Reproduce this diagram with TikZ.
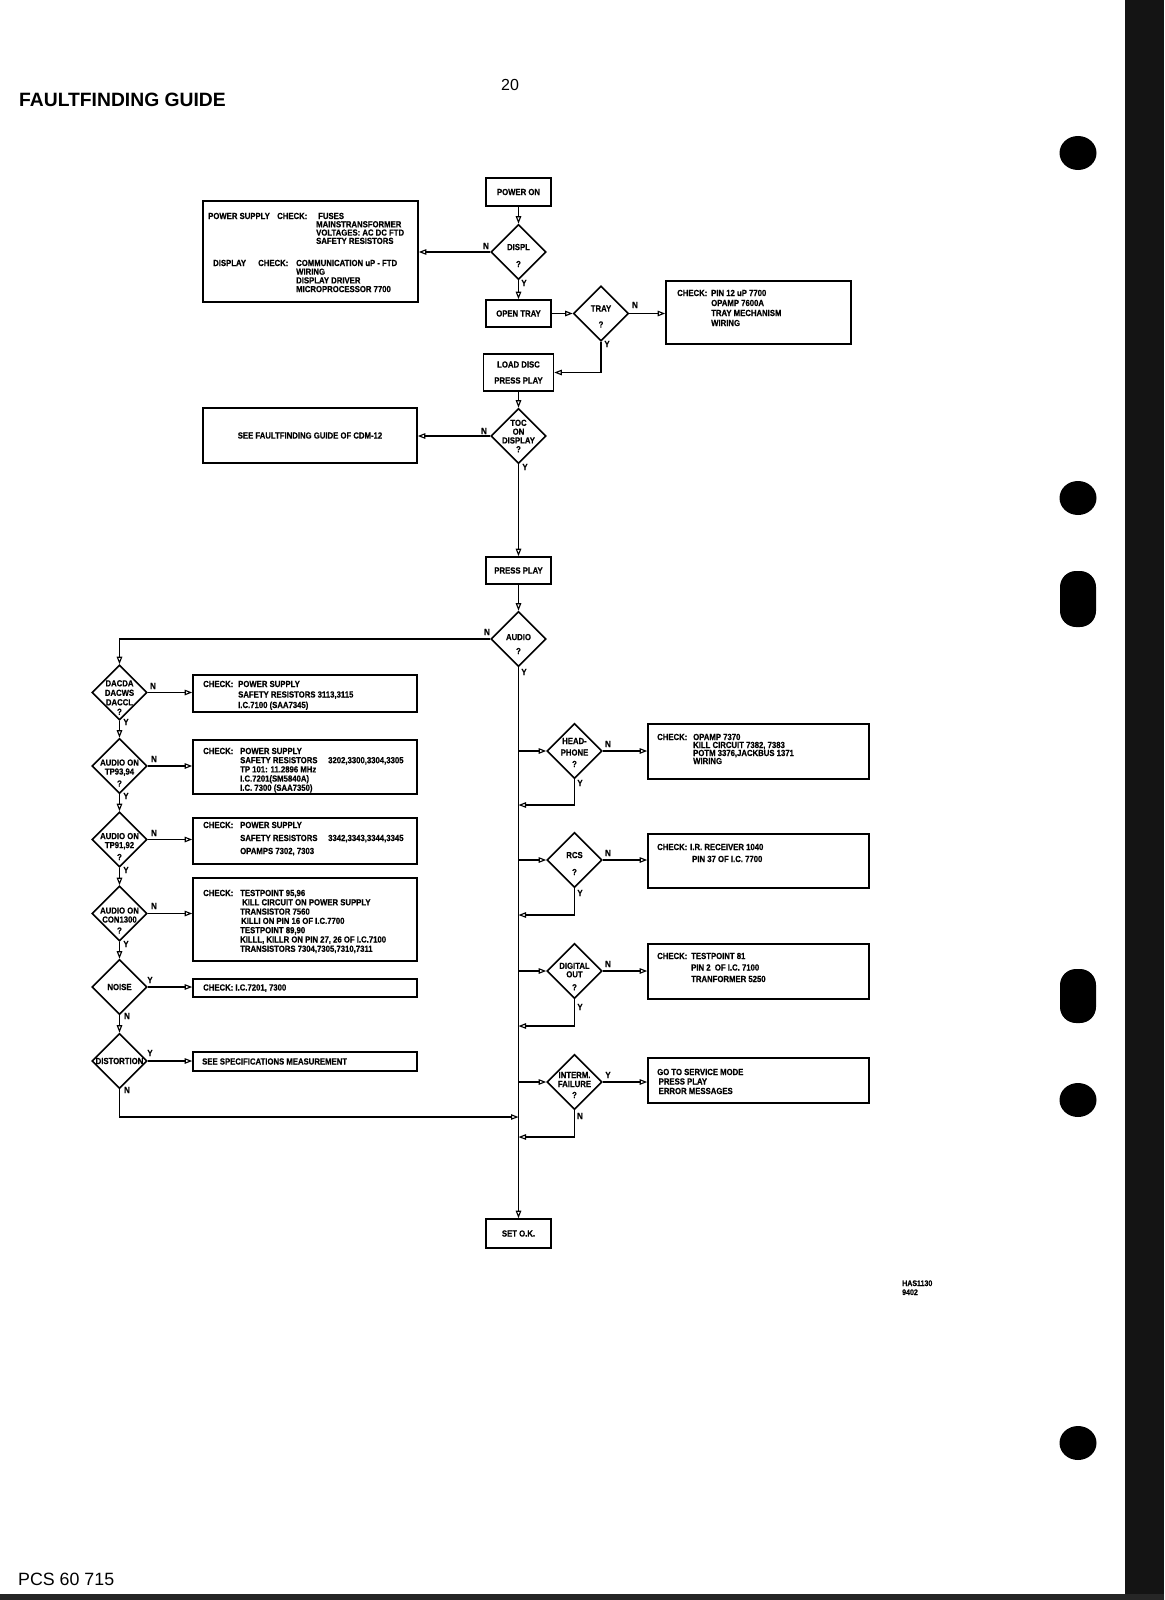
\documentclass[tikz,border=0pt]{standalone}
\usepackage{fontspec}
\setmainfont{Liberation Sans}
\newfontfamily\cf[FakeStretch=0.88,FakeBold=0.5]{Liberation Sans}
\usetikzlibrary{shapes.geometric,arrows.meta}
\newcommand\fflist[2]{\vtop{\hsize=260pt\parindent=0pt\raggedright\baselineskip=#1pt\lineskiplimit=-50pt\lineskip=0pt\leavevmode #2\par}}
\begin{document}
\begin{tikzpicture}[x=1pt,y=-1pt,
 ff/.style={font=\cf\bfseries\fontsize{8.8}{10}\selectfont},
 bx/.style={draw,line width=1.6pt,rectangle,inner sep=0pt,align=center,ff},
 dm/.style={draw,line width=1.6pt,diamond,inner sep=0pt,minimum width=55pt,minimum height=55pt},
 ar/.style={line width=1.4pt,-{Triangle[open,length=7.5pt,width=5.5pt,line width=1.1pt]}},
 yn/.style={ff,inner sep=0pt},
 tx/.style={ff,inner sep=0pt,anchor=base west},
 dt/.style={ff,inner sep=0pt,align=center},
]
\useasboundingbox (0,0) rectangle (1164,1600);
\fill[white] (0,0) rectangle (1164,1600);
% binder edge and punch holes
\fill[black!92] (1125,0) rectangle (1164,1600);
\fill[black!85] (0,1594) rectangle (1164,1600);
\fill[black] (1078,153) ellipse [x radius=18.5pt, y radius=17pt];
\fill[black] (1078,498) ellipse [x radius=18.5pt, y radius=17pt];
\fill[black,rounded corners=16pt] (1060,571) rectangle (1096,627);
\fill[black,rounded corners=16pt] (1060,969) rectangle (1096,1023);
\fill[black] (1078,1100) ellipse [x radius=18.5pt, y radius=17pt];
\fill[black] (1078,1443) ellipse [x radius=18.5pt, y radius=17pt];

% page texts
\node[anchor=base west,inner sep=0pt,font=\bfseries\fontsize{19.3}{22}\selectfont] (title) at (19,107) {FAULTFINDING GUIDE};
\node[anchor=base,inner sep=0pt,font=\fontsize{16}{18}\selectfont] (pg) at (510,91) {20};
\node[anchor=base west,inner sep=0pt,font=\fontsize{17.8}{20}\selectfont] (pcs) at (18,1585) {PCS 60 715};
\node[tx,font=\cf\bfseries\fontsize{8}{9}\selectfont] (has) at (902,1286) {\fflist{9}{HAS1130\\9402}};

% top chain
\node[bx,minimum width=65pt,minimum height=28pt] (pon) at (518.5,192) {POWER ON};
\node[bx,minimum width=215pt,minimum height=101pt] (psb) at (310.5,251.5) {};
\node[tx] (psb1) at (208,219) {POWER SUPPLY};
\node[tx] (psb2) at (277,219) {CHECK:};
\node[tx] (psb3) at (316,219) {\fflist{8.3}{\hspace*{2pt}FUSES\\MAINSTRANSFORMER\\VOLTAGES: AC DC FTD\\SAFETY RESISTORS}};
\node[tx] (psb4) at (213,266) {DISPLAY};
\node[tx] (psb5) at (258,266) {CHECK:};
\node[tx] (psb6) at (296,266) {\fflist{8.7}{COMMUNICATION uP - FTD\\WIRING\\DISPLAY DRIVER\\MICROPROCESSOR 7700}};
\node[dm] (displ) at (518.5,252) {};
\node[dt,yshift=-3.5pt] (displT) at (displ) {DISPL\\[7pt]?};

\node[bx,minimum width=65pt,minimum height=27pt] (otray) at (518.5,313.5) {OPEN TRAY};
\node[dm] (tray) at (601,313.5) {};
\node[dt,yshift=-3pt] (trayT) at (tray) {TRAY\\[6pt]?};
\node[bx,minimum width=185pt,minimum height=63pt] (trc) at (758.5,312.5) {};
\node[tx] (trc1) at (677,296) {CHECK:};
\node[tx] (trc2) at (711,296) {\fflist{10}{PIN 12 uP 7700\\OPAMP 7600A\\TRAY MECHANISM\\WIRING}};

\node[bx,minimum width=70pt,minimum height=37pt] (load) at (518.5,372.5) {LOAD DISC\\[6pt]PRESS PLAY};
\node[dm] (toc) at (518.5,436) {};
\node[dt] (tocT) at (toc) {TOC\\[-1.2pt]ON\\[-1.2pt]DISPLAY\\[-1.2pt]?};
\node[bx,minimum width=214pt,minimum height=55pt] (sfg) at (310,435.5) {SEE FAULTFINDING GUIDE OF CDM-12};

\node[bx,minimum width=65pt,minimum height=27pt] (pplay) at (518.5,570.5) {PRESS PLAY};
\node[dm] (audio) at (518.5,639) {};
\node[dt,yshift=-5pt] (audioT) at (audio) {AUDIO\\[4pt]?};

% left column
\node[dm] (dac) at (119.5,692.5) {};
\node[dt,yshift=-5pt] (dacT) at (dac) {DACDA\\[-0.5pt]DACWS\\[-0.5pt]DACCL\\[-0.5pt]?};
\node[bx,minimum width=224pt,minimum height=37pt] (b1) at (305,693.5) {};
\node[tx] (b1a) at (203,687) {CHECK:};
\node[tx] (b1b) at (238,687) {\fflist{10.5}{POWER SUPPLY\\SAFETY RESISTORS 3113,3115\\I.C.7100 (SAA7345)}};

\node[dm] (tp93) at (119.5,766) {};
\node[dt,yshift=-7pt] (tp93T) at (tp93) {AUDIO ON\\[-1pt]TP93,94\\[2pt]?};
\node[bx,minimum width=224pt,minimum height=54pt] (b2) at (305,767) {};
\node[tx] (b2a) at (203,754) {CHECK:};
\node[tx] (b2b) at (240,754) {\fflist{9.2}{POWER SUPPLY\\\makebox[88pt][l]{SAFETY RESISTORS}3202,3300,3304,3305\\TP 101: 11.2896 MHz\\I.C.7201(SM5840A)\\I.C. 7300 (SAA7350)}};

\node[dm] (tp91) at (119.5,839.5) {};
\node[dt,yshift=-7pt] (tp91T) at (tp91) {AUDIO ON\\[-1pt]TP91,92\\[2pt]?};
\node[bx,minimum width=224pt,minimum height=46pt] (b3) at (305,841) {};
\node[tx] (b3a) at (203,828) {CHECK:};
\node[tx] (b3b) at (240,828) {\fflist{13}{POWER SUPPLY\\\makebox[88pt][l]{SAFETY RESISTORS}3342,3343,3344,3345\\OPAMPS 7302, 7303}};

\node[dm] (con) at (119.5,913.5) {};
\node[dt,yshift=-7pt] (conT) at (con) {AUDIO ON\\[-1pt]CON1300\\[1pt]?};
\node[bx,minimum width=224pt,minimum height=83pt] (b4) at (305,919.5) {};
\node[tx] (b4a) at (203,896) {CHECK:};
\node[tx] (b4b) at (240,896) {\fflist{9.3}{TESTPOINT 95,96\\\hspace*{2pt}KILL CIRCUIT ON POWER SUPPLY\\TRANSISTOR 7560\\\hspace*{1pt}KILLI ON PIN 16 OF I.C.7700\\TESTPOINT 89,90\\KILLL, KILLR ON PIN 27, 26 OF I.C.7100\\TRANSISTORS 7304,7305,7310,7311}};

\node[dm] (noise) at (119.5,987) {};
\node[dt] (noiseT) at (noise) {NOISE};
\node[bx,minimum width=224pt,minimum height=18pt] (b5) at (305,988) {};
\node[tx] (b5a) at (203,990.5) {CHECK: I.C.7201, 7300};

\node[dm] (dist) at (119.5,1061) {};
\node[dt] (distT) at (dist) {DISTORTION};
\node[bx,minimum width=224pt,minimum height=19pt] (b6) at (305,1061.5) {};
\node[tx] (b6a) at (202,1064.5) {SEE SPECIFICATIONS MEASUREMENT};

% right column
\node[dm] (hp) at (574.5,751) {};
\node[dt,yshift=-1.5pt] (hpT) at (hp) {HEAD-\\[1.5pt]PHONE\\[1.5pt]?};
\node[bx,minimum width=221pt,minimum height=55pt] (b7) at (758.5,751.5) {};
\node[tx] (b7a) at (657,740) {CHECK:};
\node[tx] (b7b) at (693,740) {\fflist{8}{OPAMP 7370\\KILL CIRCUIT 7382, 7383\\POTM 3376,JACKBUS 1371\\WIRING}};

\node[dm] (rcs) at (574.5,860) {};
\node[dt,yshift=-3.5pt] (rcsT) at (rcs) {RCS\\[7pt]?};
\node[bx,minimum width=221pt,minimum height=54pt] (b8) at (758.5,861) {};
\node[tx] (b8a) at (657,850) {CHECK:};
\node[tx] (b8b) at (690,850) {\fflist{12}{I.R. RECEIVER 1040\\\hspace*{2pt}PIN 37 OF I.C. 7700}};

\node[dm] (dig) at (574.5,971) {};
\node[dt,yshift=-5.5pt] (digT) at (dig) {DIGITAL\\[-1.5pt]OUT\\[3pt]?};
\node[bx,minimum width=221pt,minimum height=55pt] (b9) at (758.5,971.5) {};
\node[tx] (b9a) at (657,959) {CHECK:};
\node[tx] (b9b) at (691,959) {\fflist{11.5}{TESTPOINT 81\\PIN 2\ \ OF I.C. 7100\\TRANFORMER 5250}};

\node[dm] (int) at (574.5,1082) {};
\node[dt,yshift=-3pt] (intT) at (int) {INTERM.\\[-1pt]FAILURE\\[1pt]?};
\node[bx,minimum width=221pt,minimum height=45pt] (b10) at (758.5,1080.5) {};
\node[tx] (b10a) at (657,1075) {\fflist{9.5}{GO TO SERVICE MODE\\\hspace*{1.5pt}PRESS PLAY\\\hspace*{1.5pt}ERROR MESSAGES}};

\node[bx,minimum width=65pt,minimum height=29pt] (setok) at (518.5,1233.5) {SET O.K.};

% return points on the main line
\coordinate (rhp) at (518.5,805);
\coordinate (rrcs) at (518.5,915);
\coordinate (rdig) at (518.5,1026);
\coordinate (rint) at (518.5,1137);
\coordinate (rdist) at (518.5,1117);

% connectors
\draw[ar] (pon.south) -- (displ.north);
\draw[ar] (displ.west) -- (displ.west -| psb.east);
\draw[ar] (displ.south) -- (otray.north);
\draw[ar] (otray.east) -- (tray.west);
\draw[ar] (tray.east) -- (tray.east -| trc.west);
\draw[ar] (tray.south) |- (load.east);
\draw[ar] (load.south) -- (toc.north);
\draw[ar] (toc.west) -- (toc.west -| sfg.east);
\draw[ar] (toc.south) -- (pplay.north);
\draw[ar] (pplay.south) -- (audio.north);
\draw[ar] (audio.west) -| (dac.north);
\draw[ar] (dac.east) -- (dac.east -| b1.west);
\draw[ar] (dac.south) -- (tp93.north);
\draw[ar] (tp93.east) -- (tp93.east -| b2.west);
\draw[ar] (tp93.south) -- (tp91.north);
\draw[ar] (tp91.east) -- (tp91.east -| b3.west);
\draw[ar] (tp91.south) -- (con.north);
\draw[ar] (con.east) -- (con.east -| b4.west);
\draw[ar] (con.south) -- (noise.north);
\draw[ar] (noise.east) -- (noise.east -| b5.west);
\draw[ar] (noise.south) -- (dist.north);
\draw[ar] (dist.east) -- (dist.east -| b6.west);
\draw[ar] (dist.south) |- (rdist);
\draw[ar] (audio.south) -- (setok.north);
\draw[ar] (audio.south |- hp.west) -- (hp.west);
\draw[ar] (hp.east) -- (hp.east -| b7.west);
\draw[ar] (hp.south) |- (rhp);
\draw[ar] (audio.south |- rcs.west) -- (rcs.west);
\draw[ar] (rcs.east) -- (rcs.east -| b8.west);
\draw[ar] (rcs.south) |- (rrcs);
\draw[ar] (audio.south |- dig.west) -- (dig.west);
\draw[ar] (dig.east) -- (dig.east -| b9.west);
\draw[ar] (dig.south) |- (rdig);
\draw[ar] (audio.south |- int.west) -- (int.west);
\draw[ar] (int.east) -- (int.east -| b10.west);
\draw[ar] (int.south) |- (rint);

% branch labels
\node[yn] (nDispl) at (486,246) {N};
\node[yn] (yDispl) at (524,283) {Y};
\node[yn] (nTray) at (635,305) {N};
\node[yn] (yTray) at (607,344) {Y};
\node[yn] (nToc) at (484,431) {N};
\node[yn] (yToc) at (525,467) {Y};
\node[yn] (nAudio) at (487,632) {N};
\node[yn] (yAudio) at (524,672) {Y};
\node[yn] (nDac) at (153,686) {N};
\node[yn] (yDac) at (126,722) {Y};
\node[yn] (nTp93) at (154,759) {N};
\node[yn] (yTp93) at (126,796) {Y};
\node[yn] (nTp91) at (154,833) {N};
\node[yn] (yTp91) at (126,870) {Y};
\node[yn] (nCon) at (154,906) {N};
\node[yn] (yCon) at (126,944) {Y};
\node[yn] (yNoise) at (150,980) {Y};
\node[yn] (nNoise) at (127,1016) {N};
\node[yn] (yDist) at (150,1053) {Y};
\node[yn] (nDist) at (127,1090) {N};
\node[yn] (nHp) at (608,744) {N};
\node[yn] (yHp) at (580,783) {Y};
\node[yn] (nRcs) at (608,853) {N};
\node[yn] (yRcs) at (580,893) {Y};
\node[yn] (nDig) at (608,964) {N};
\node[yn] (yDig) at (580,1007) {Y};
\node[yn] (yInt) at (608,1075) {Y};
\node[yn] (nInt) at (580,1116) {N};
\end{tikzpicture}
\end{document}
